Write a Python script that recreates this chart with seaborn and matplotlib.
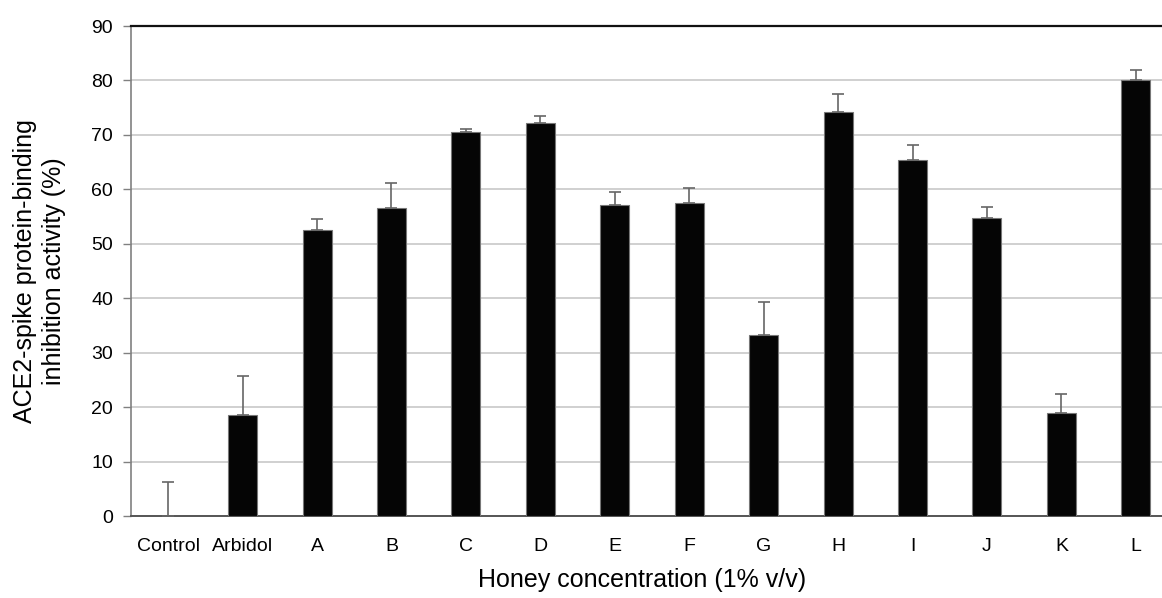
import matplotlib
matplotlib.use('Agg')
import matplotlib.pyplot as plt
import seaborn as sns
import pandas as pd

# values
samples = ['Control', 'Arbidol', 'A', 'B', 'C', 'D', 'E', 'F', 'G',
           'H', 'I', 'J', 'K', 'L']
inhibition = [0.0, 18.6, 52.6, 56.6, 70.6, 72.2, 57.2, 57.5, 33.3,
              74.2, 65.4, 54.7, 19.0, 80.0]
err_up = [6.2, 7.2, 2.0, 4.6, 0.4, 1.3, 2.3, 2.8, 6.0,
          3.4, 2.8, 2.1, 3.5, 1.9]
y_ticks = [0, 10, 20, 30, 40, 50, 60, 70, 80, 90]

df = pd.DataFrame({'sample': samples, 'inhibition': inhibition, 'err': err_up})

sns.set_style('white')
plt.rcParams['font.family'] = ['Liberation Sans', 'DejaVu Sans']
plt.rcParams['text.color'] = 'black'
plt.rcParams['axes.labelcolor'] = 'black'
plt.rcParams['xtick.color'] = 'black'
plt.rcParams['ytick.color'] = 'black'

fig = plt.figure(figsize=(11.62, 5.98), dpi=100)
ax = fig.add_axes([0.1127, 0.1371, 0.8968, 0.8194])

sns.barplot(data=df, x='sample', y='inhibition', color='#050505',
            edgecolor='#777777', linewidth=0.8, width=0.39,
            errorbar=None, saturation=1, ax=ax, zorder=3)

# one-sided (upper) error bars
ax.errorbar(range(len(df)), df['inhibition'],
            yerr=[[0] * len(df), df['err']], fmt='none',
            ecolor='#666666', elinewidth=1.2, capsize=4.3, capthick=1.2,
            zorder=4)

ax.set_ylim(0, 90)
ax.set_xlim(-0.5, len(df) - 0.5)
ax.set_yticks(y_ticks)
ax.yaxis.grid(True, color='#c4c4c4', linewidth=1.1, zorder=0)
ax.set_axisbelow(True)

ax.spines['right'].set_visible(False)
ax.spines['top'].set_color('#111111')
ax.spines['top'].set_linewidth(1.6)
ax.spines['left'].set_color('#808080')
ax.spines['left'].set_linewidth(1.2)
ax.spines['bottom'].set_color('#555555')
ax.spines['bottom'].set_linewidth(1.4)

ax.tick_params(axis='y', which='major', left=True, length=6, width=1,
               color='#808080', labelcolor='black', labelsize=14, pad=7)
ax.tick_params(axis='x', bottom=False, labelcolor='black', labelsize=14, pad=12)

ax.set_xlabel('Honey concentration (1% v/v)', fontsize=18)
ax.xaxis.set_label_coords(0.4904, -0.106)
ax.set_ylabel('ACE2-spike protein-binding\ninhibition activity (%)',
              fontsize=18, linespacing=1.25)
ax.yaxis.set_label_coords(-0.0624, 0.5)

fig.savefig('out.png', dpi=100)
